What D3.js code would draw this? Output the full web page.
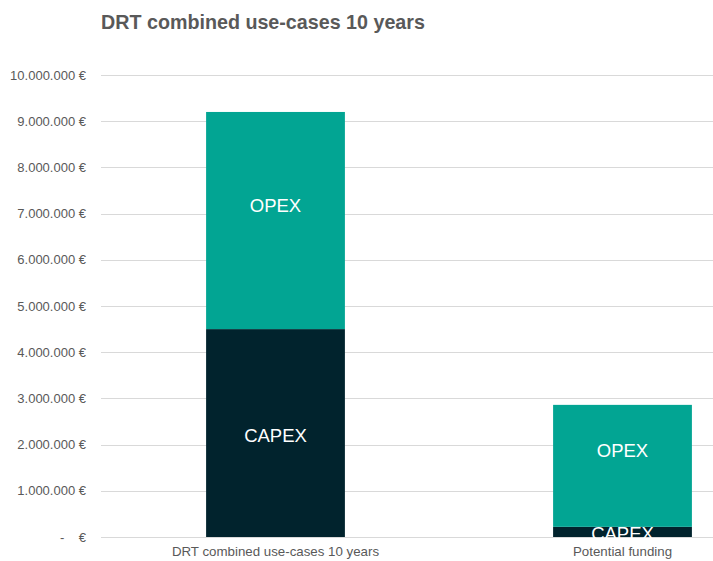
<!DOCTYPE html>
<html>
<head>
<meta charset="utf-8">
<script src="https://cdn.jsdelivr.net/npm/d3@7"></script>
<style>
  body { margin: 0; background: #fff; }
  #figure { width: 713px; height: 561px; overflow: hidden; }
  text { font-family: "Liberation Sans", Arial, sans-serif; white-space: pre; }
</style>
</head>
<body>
<div id="figure"></div>
<script>
// data
var categories = ["DRT combined use-cases 10 years", "Potential funding"];
var capex = [4500000, 220000];
var opex = [4700000, 2640000];
var seriesNames = ["CAPEX", "OPEX"];
var tickValues = [0, 1000000, 2000000, 3000000, 4000000, 5000000, 6000000, 7000000, 8000000, 9000000, 10000000];

var width = 713;
var height = 561;

var colors = { CAPEX: "#01232d", OPEX: "#02a593" };
// label nudges so they sit where the original put them
var labelShift = { CAPEX: 2, OPEX: -15 };

var svg = d3.select("#figure")
    .append("svg")
    .attr("width", width)
    .attr("height", height);

// plot area runs past the right edge, the original was cropped
var x = d3.scaleBand()
    .domain(categories)
    .range([102, 796])
    .paddingInner(0.6)
    .paddingOuter(0.3);

var y = d3.scaleLinear()
    .domain([0, 10000000])
    .range([537, 75]);

var fmt = function (v) {
    if (v === 0) return "-    €";
    return d3.format(",")(v).replace(/,/g, ".") + " €";
};

// gridlines
svg.append("g")
    .selectAll("line")
    .data(tickValues)
    .enter()
    .append("line")
    .attr("x1", 101)
    .attr("x2", width)
    .attr("y1", function (d) { return Math.round(y(d)) + 0.5 })
    .attr("y2", function (d) { return Math.round(y(d)) + 0.5 })
    .attr("stroke", "#d9d9d9")
    .attr("stroke-width", 1);

// y axis labels
var yAxis = d3.axisLeft(y)
    .tickValues(tickValues)
    .tickFormat(fmt)
    .tickSize(0)
    .tickPadding(0);

var ya = svg.append("g")
    .attr("transform", "translate(86,0)")
    .call(yAxis);
ya.select(".domain").remove();
ya.selectAll("text")
    .attr("fill", "#595959")
    .style("font-size", "13px")
    .style("font-family", "'Liberation Sans', Arial, sans-serif");

// stacked bars
var rows = categories.map(function (c, i) {
    return { cat: c, CAPEX: capex[i], OPEX: opex[i] };
});
var stacked = d3.stack().keys(seriesNames)(rows);

var layers = svg.append("g")
    .selectAll("g")
    .data(stacked)
    .enter()
    .append("g")
    .attr("fill", function (d) { return colors[d.key] });

layers.selectAll("rect")
    .data(function (d) { return d })
    .enter()
    .append("rect")
    .attr("x", function (d) { return x(d.data.cat) })
    .attr("width", x.bandwidth())
    .attr("y", function (d) { return y(d[1]) })
    .attr("height", function (d) { return y(d[0]) - y(d[1]) });

layers.selectAll("text")
    .data(function (d) { return d.map(function (p) { p.key = d.key; return p }) })
    .enter()
    .append("text")
    .attr("x", function (d) { return x(d.data.cat) + x.bandwidth() / 2 })
    .attr("y", function (d) { return (y(d[0]) + y(d[1])) / 2 + labelShift[d.key] })
    .attr("dy", "0.35em")
    .attr("text-anchor", "middle")
    .attr("fill", "#ffffff")
    .style("font-size", "18.5px")
    .text(function (d) { return d.key });

// x axis labels
var xAxis = d3.axisBottom(x).tickSize(0).tickPadding(0);
var xa = svg.append("g")
    .attr("transform", "translate(0,547)")
    .call(xAxis);
xa.select(".domain").remove();
xa.selectAll("text")
    .attr("fill", "#595959")
    .style("font-size", "13.3px")
    .style("font-family", "'Liberation Sans', Arial, sans-serif");

// title
svg.append("text")
    .attr("x", 101)
    .attr("y", 29)
    .attr("fill", "#595959")
    .style("font-size", "19.7px")
    .style("font-weight", "bold")
    .text("DRT combined use-cases 10 years");
</script>
</body>
</html>
